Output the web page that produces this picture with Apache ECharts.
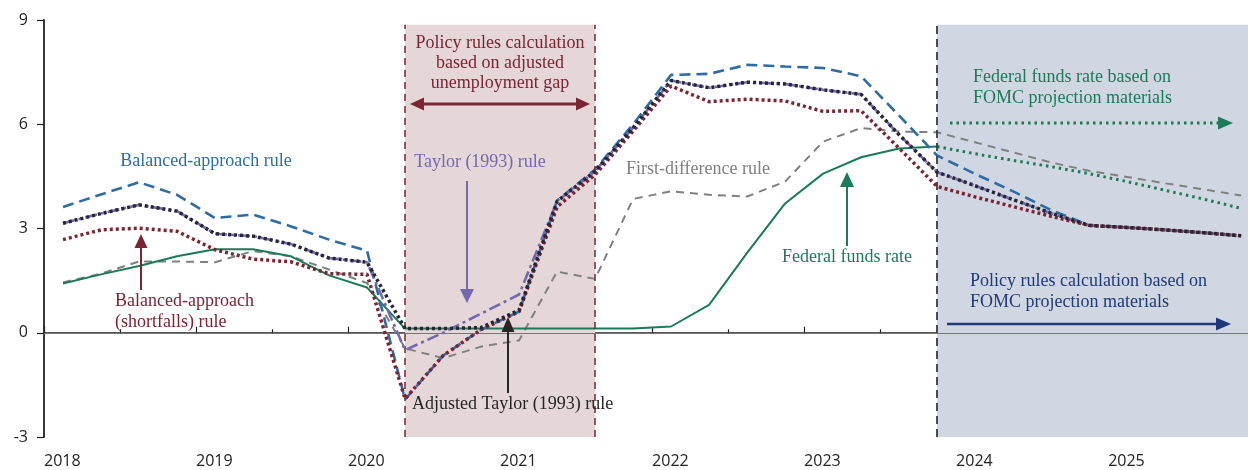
<!DOCTYPE html>
<html><head><meta charset="utf-8">
<script src="https://cdn.jsdelivr.net/npm/echarts@6/dist/echarts.min.js"></script>
<style>html,body{margin:0;padding:0;background:#fff}#c{width:1248px;height:470px}</style>
</head><body><div id="c"></div>
<script>
var quarters = [];
for (var y = 2018; y <= 2025; y++) { for (var q = 1; q <= 4; q++) quarters.push(y + 'Q' + q); }
var yearLabels = ['2018','2019','2020','2021','2022','2023','2024','2025'];
var yTicks = [-3, 0, 3, 6, 9];

var fedFunds = [1.42,1.68,1.92,2.2,2.4,2.4,2.2,1.65,1.3,0.12,0.12,0.12,0.12,0.12,0.12,0.12,0.18,0.8,2.3,3.72,4.58,5.05,5.3,5.36,null,null,null,null,null,null,null,null];
var fedFundsProj = [null,null,null,null,null,null,null,null,null,null,null,null,null,null,null,null,null,null,null,null,null,null,null,5.36,5.15,4.96,4.78,4.58,4.35,4.1,3.85,3.58];
var balanced = [3.62,3.98,4.33,3.97,3.30,3.40,3.06,2.68,2.36,-1.92,-0.66,0.09,0.61,3.8,4.7,6.0,7.42,7.45,7.71,7.66,7.62,7.38,6.25,5.1,4.57,4.07,3.53,3.09,3.03,2.96,2.88,2.79];
var shortfalls = [2.68,2.96,3.01,2.92,2.39,2.12,2.04,1.7,1.68,-1.9,-0.66,0.09,0.61,3.62,4.55,5.8,7.1,6.65,6.72,6.67,6.37,6.39,5.31,4.21,3.91,3.63,3.35,3.09,3.03,2.96,2.88,2.79];
var adjTaylor = [3.15,3.43,3.68,3.5,2.85,2.78,2.55,2.15,2.03,0.12,0.12,0.15,0.65,3.78,4.65,5.9,7.26,7.05,7.21,7.16,6.99,6.86,5.7,4.62,4.23,3.83,3.44,3.09,3.03,2.96,2.88,2.79];
var taylor = [3.15,3.43,3.68,3.5,2.85,2.78,2.55,2.15,2.03,-0.5,0.0,0.55,1.1,3.78,4.65,5.9,7.26,7.05,7.21,7.16,6.99,6.86,5.7,4.62,4.23,3.83,3.44,3.09,3.03,2.96,2.88,2.79];
var firstDiff = [1.45,1.7,2.05,2.05,2.03,2.35,2.2,1.82,1.43,-0.45,-0.73,-0.4,-0.22,1.76,1.55,3.85,4.07,3.97,3.92,4.35,5.5,5.89,5.79,5.77,5.48,5.19,4.9,4.66,4.48,4.3,4.13,3.95];

function qx(i) { return 2018 + (i + 0.5) / 4; }
function pts(arr) { return arr.map(function (v, i) { return [qx(i), v]; }); }

var serif = 'Liberation Serif, Times New Roman, serif';
var C = { red: '#7b2433', blue: '#2e6da4', purple: '#7468b0', gray: '#808080', green: '#1b7a57', navy: '#1f3a78', black: '#262633' };

function txt(x, y, s, color, align) {
  return { type: 'text', x: x, y: y, z: 50, style: { text: s, fill: color, font: '18px ' + serif, textAlign: align || 'center', textVerticalAlign: 'middle' } };
}
function ln(x1, y1, x2, y2, color, w, dash) {
  return { type: 'line', z: 50, shape: { x1: x1, y1: y1, x2: x2, y2: y2 }, style: { stroke: color, lineWidth: w, lineDash: dash || null } };
}
function tri(p, color) {
  return { type: 'polygon', z: 50, shape: { points: p }, style: { fill: color } };
}

var chart = echarts.init(document.getElementById('c'));
chart.setOption({
  animation: false,
  grid: { left: 44, right: 0, top: 20, bottom: 33 },
  xAxis: {
    type: 'value', min: 2018, max: 2025.92, interval: 1,
    axisLine: { lineStyle: { color: '#222', width: 1.5 } },
    axisTick: { inside: true, length: 6, lineStyle: { color: '#222', width: 1.2 } },
    minorTick: { show: true, splitNumber: 2, length: 3.5, lineStyle: { color: '#222', width: 1.2 } },
    splitLine: { show: false },
    axisLabel: {
      showMaxLabel: false, align: 'left', margin: 16, color: '#222', fontFamily: 'Open Sans', fontSize: 16,
      formatter: function (v) { var k = yearLabels.indexOf(String(Math.round(v))); return (Math.abs(v - Math.round(v)) < 1e-6 && k >= 0) ? yearLabels[k] : ''; }
    }
  },
  yAxis: {
    type: 'value', min: yTicks[0], max: yTicks[yTicks.length - 1], interval: 3,
    axisLine: { show: true, lineStyle: { color: '#222', width: 1.8 } },
    axisTick: { show: true, length: 7, lineStyle: { color: '#222', width: 1.2 } },
    splitLine: { show: false },
    axisLabel: { margin: 16, color: '#222', fontFamily: 'Open Sans', fontSize: 16 }
  },
  series: [
    { type: 'line', data: [], z: 1, silent: true,
      markArea: { silent: true, data: [
        [{ xAxis: qx(9), yAxis: -3, itemStyle: { color: '#e5d6d8' } }, { xAxis: qx(14), yAxis: 8.86 }],
        [{ xAxis: qx(23), yAxis: -3, itemStyle: { color: '#d0d7e3' } }, { xAxis: 2025.92, yAxis: 8.86 }]
      ] },
      markLine: { silent: true, symbol: 'none', label: { show: false }, data: [
        [{ coord: [qx(9), -3], lineStyle: { color: C.red, type: [7, 5], width: 1.5 } }, { coord: [qx(9), 8.86] }],
        [{ coord: [qx(14), -3], lineStyle: { color: C.red, type: [7, 5], width: 1.5 } }, { coord: [qx(14), 8.86] }],
        [{ coord: [qx(23), -3], lineStyle: { color: '#3a3a44', type: [8, 5], width: 1.8 } }, { coord: [qx(23), 8.86] }],
        [{ coord: [2018, 0], lineStyle: { color: '#777', type: 'solid', width: 1 } }, { coord: [2025.92, 0] }]
      ] }
    },
    { name: 'First-difference rule', type: 'line', z: 3, data: pts(firstDiff), symbol: 'none', lineStyle: { color: C.gray, width: 2, type: [8, 6] } },
    { name: 'Federal funds rate', type: 'line', z: 3, data: pts(fedFunds), symbol: 'none', lineStyle: { color: C.green, width: 2 } },
    { name: 'FFR projection', type: 'line', z: 3, data: pts(fedFundsProj), symbol: 'none', lineStyle: { color: C.green, width: 3, type: [2.5, 4] } },
    { name: 'Balanced-approach rule', type: 'line', z: 4, data: pts(balanced), symbol: 'none', lineStyle: { color: C.blue, width: 2.6, type: [11, 6] } },
    { name: 'Taylor (1993) rule', type: 'line', z: 5, data: pts(taylor), symbol: 'none', lineStyle: { color: C.purple, width: 2.6, type: [12, 4, 3, 4] } },
    { name: 'Balanced-approach (shortfalls) rule', type: 'line', z: 6, data: pts(shortfalls), symbol: 'none', lineStyle: { color: C.red, width: 3.5, type: [3, 3] } },
    { name: 'Adjusted Taylor (1993) rule', type: 'line', z: 7, data: pts(adjTaylor), symbol: 'none', lineStyle: { color: C.black, width: 3.5, type: [3, 3] } }
  ],
  graphic: [
    txt(500, 43, 'Policy rules calculation', C.red),
    txt(500, 63, 'based on adjusted', C.red),
    txt(500, 83, 'unemployment gap', C.red),
    ln(422, 104, 578, 104, C.red, 3),
    tri([[410, 104], [424, 97.5], [424, 110.5]], C.red),
    tri([[590, 104], [576, 97.5], [576, 110.5]], C.red),

    txt(206, 161, 'Balanced-approach rule', C.blue),
    txt(480, 162, 'Taylor (1993) rule', C.purple),
    ln(467, 181, 467, 291, C.purple, 2),
    tri([[467, 303], [460, 289], [474, 289]], C.purple),

    txt(698, 169, 'First-difference rule', C.gray),
    txt(847, 257, 'Federal funds rate', C.green),
    ln(847, 185, 847, 246, C.green, 2),
    tri([[847, 172], [840, 187], [854, 187]], C.green),

    txt(115, 301, 'Balanced-approach', C.red, 'left'),
    txt(115, 322, '(shortfalls) rule', C.red, 'left'),
    ln(141, 246, 141, 290, C.red, 2),
    tri([[141, 234], [134.5, 248], [147.5, 248]], C.red),

    txt(412, 404, 'Adjusted Taylor (1993) rule', '#262626', 'left'),
    ln(508, 330, 508, 393, '#262626', 2),
    tri([[508, 317], [501.5, 332], [514.5, 332]], '#262626'),

    txt(973, 77, 'Federal funds rate based on', C.green, 'left'),
    txt(973, 98, 'FOMC projection materials', C.green, 'left'),
    ln(950, 123, 1219, 123, C.green, 3, [2.5, 4]),
    tri([[1233, 123], [1218, 116.5], [1218, 129.5]], C.green),

    txt(970, 281, 'Policy rules calculation based on', C.navy, 'left'),
    txt(970, 302, 'FOMC projection materials', C.navy, 'left'),
    ln(947, 324, 1218, 324, C.navy, 2.5),
    tri([[1231, 324], [1216, 317.5], [1216, 330.5]], C.navy)
  ]
});
</script></body></html>
